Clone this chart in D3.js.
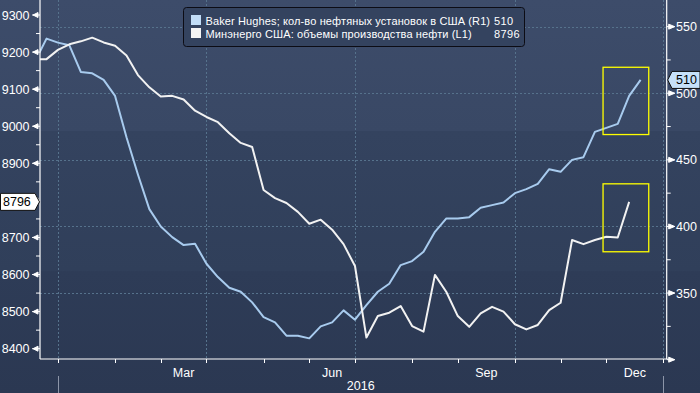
<!DOCTYPE html>
<html>
<head>
<meta charset="utf-8">
<script src="https://cdn.jsdelivr.net/npm/d3@7/dist/d3.min.js"></script>
<style>
  html, body { margin: 0; padding: 0; background: #2d3a55; }
  svg { display: block; font-family: "Liberation Sans", "DejaVu Sans", sans-serif; }
</style>
</head>
<body>
<svg id="chart" width="700" height="393"></svg>
<script>
"use strict";

// weekly points, first one sits just left of the plot (clipped)
var firstWeek = new Date(2015, 11, 18);

// Baker Hughes oil rigs (right axis)
var rigs = [524, 541, 538, 536, 516, 515, 510, 498, 467, 439, 413,
	400, 392, 386, 387, 372, 362, 354, 351, 343, 332,
	328, 318, 318, 316, 325, 328, 337, 330, 341, 351,
	357, 371, 374, 381, 396, 406, 406, 407, 414, 416,
	418, 425, 428, 432, 443, 441, 450, 452, 471, 474,
	477, 498, 510];

// EIA crude production, thousand bbl/d (left axis)
var production = [9180, 9181, 9206, 9221, 9229, 9239, 9226, 9217, 9191, 9138, 9105,
	9080, 9082, 9072, 9042, 9025, 9011, 8981, 8955, 8944, 8828,
	8806, 8793, 8769, 8737, 8748, 8721, 8682, 8623, 8430, 8488,
	8497, 8515, 8461, 8446, 8599, 8553, 8488, 8459, 8495, 8513,
	8500, 8466, 8452, 8464, 8504, 8524, 8693, 8682, 8693, 8702,
	8700, 8796];

var leftTicks = [8400, 8500, 8600, 8700, 8800, 8900, 9000, 9100, 9200, 9300];
var rightTicks = [300, 350, 400, 450, 500, 550];
var monthTicks = ['2016-01-01', '2016-02-05', '2016-03-04', '2016-04-01', '2016-05-06', '2016-06-03',
	'2016-07-01', '2016-08-05', '2016-09-02', '2016-10-07', '2016-11-04', '2016-12-02', '2017-01-06'];
var monthNames = ['', '', 'Mar', '', '', 'Jun', '', '', 'Sep', '', '', 'Dec'];
var quarterGrid = ['2016-01-01', '2016-04-01', '2016-07-01', '2016-10-07', '2017-01-06'];
var yearLabel = '2016';

var legendItems = [
	{name: 'Baker Hughes; кол-во нефтяных установок в США (R1)', value: '510', color: '#c2ddf7'},
	{name: 'Минэнерго США: объемы производства нефти (L1)', value: '8796', color: '#f4f4f4'}
];

// annotation boxes: [from date, to date, low rigs, high rigs]
var highlights = [
	['2016-11-30', '2016-12-28', 469, 519.5],
	['2016-11-30', '2016-12-28', 381, 432]
];

var parse = d3.timeParse('%Y-%m-%d');

var props = {
	width: 700,
	height: 393,
	left: 40,
	right: 666.7,
	top: 0,
	bottom: 359,
	blue: '#a8cbee',
	white: '#f2f2f2',
	grid: '#56728c'
};

var svg = d3.select('#chart');

// background bands
var defs = svg.append('defs');
var bg = defs.append('linearGradient')
	.attr('id', 'bg')
	.attr('x1', 0).attr('x2', 0).attr('y1', 0).attr('y2', 1);
[[0, '#3d4c6a'], [0.333, '#394865'], [0.334, '#34435f'], [0.69, '#303f5a'], [0.691, '#2e3c57'], [1, '#2b3852']]
	.forEach(function(s) {
		bg.append('stop').attr('offset', s[0]).attr('stop-color', s[1]);
	});
svg.append('rect')
	.attr('width', props.width)
	.attr('height', props.height)
	.attr('fill', 'url(#bg)');

defs.append('clipPath').attr('id', 'plot-clip')
	.append('rect')
	.attr('x', props.left)
	.attr('y', props.top)
	.attr('width', props.right - props.left)
	.attr('height', props.bottom - props.top);

var x = d3.scaleTime()
	.domain([new Date(2015, 11, 21), new Date(2017, 0, 8)])
	.range([props.left, props.right]);

var yLeft = d3.scaleLinear()
	.domain([8372.2, 9340.5])
	.range([props.bottom, props.top]);

var yRight = d3.scaleLinear()
	.domain([300.5, 570])
	.range([props.bottom, props.top]);

var dates = rigs.map(function(d, i) { return d3.timeDay.offset(firstWeek, 7 * i); });

// grid
var grid = svg.append('g').attr('class', 'grid');
grid.selectAll('.hgrid').data([350, 400, 450, 500, 550]).enter().append('line')
	.attr('x1', props.left).attr('x2', props.right)
	.attr('y1', function(d) { return Math.round(yRight(d)) + 0.5; })
	.attr('y2', function(d) { return Math.round(yRight(d)) + 0.5; })
	.attr('stroke', props.grid)
	.attr('stroke-dasharray', '2,2');
grid.selectAll('.vgrid').data(quarterGrid).enter().append('line')
	.attr('x1', function(d) { return Math.round(x(parse(d))) + 0.5; })
	.attr('x2', function(d) { return Math.round(x(parse(d))) + 0.5; })
	.attr('y1', props.top).attr('y2', props.bottom)
	.attr('stroke', props.grid)
	.attr('stroke-dasharray', '2,2');

// series
var plot = svg.append('g').attr('clip-path', 'url(#plot-clip)');

var rigLine = d3.line()
	.x(function(d, i) { return x(dates[i]); })
	.y(function(d) { return yRight(d); });
var prodLine = d3.line()
	.x(function(d, i) { return x(dates[i]); })
	.y(function(d) { return yLeft(d); });

plot.append('path')
	.datum(rigs)
	.attr('d', rigLine)
	.attr('fill', 'none')
	.attr('stroke', props.blue)
	.attr('stroke-width', 2)
	.attr('stroke-linejoin', 'round');

plot.append('path')
	.datum(production)
	.attr('d', prodLine)
	.attr('fill', 'none')
	.attr('stroke', props.white)
	.attr('stroke-width', 2)
	.attr('stroke-linejoin', 'round');

// yellow boxes
svg.selectAll('.hl').data(highlights).enter().append('rect')
	.attr('x', function(d) { return x(parse(d[0])); })
	.attr('y', function(d) { return yRight(d[3]); })
	.attr('width', function(d) { return x(parse(d[1])) - x(parse(d[0])); })
	.attr('height', function(d) { return yRight(d[2]) - yRight(d[3]); })
	.attr('fill', 'none')
	.attr('stroke', '#ffff00')
	.attr('stroke-width', 1.3);

// axes lines
var axes = svg.append('g').attr('stroke', '#ffffff').attr('stroke-width', 1.2);
axes.append('line').attr('x1', props.left).attr('x2', props.left).attr('y1', 0).attr('y2', props.bottom);
axes.append('line').attr('x1', props.right).attr('x2', props.right).attr('y1', 0).attr('y2', props.bottom);
axes.append('line').attr('x1', props.left).attr('x2', props.right + 1).attr('y1', props.bottom).attr('y2', props.bottom);

// left axis ticks
var left = svg.append('g');
left.selectAll('.minor').data(leftTicks.map(function(d) { return d + 50; }).filter(function(d) { return yLeft(d) > 0; }))
	.enter().append('line')
	.attr('x1', props.left - 4).attr('x2', props.left)
	.attr('y1', function(d) { return yLeft(d); })
	.attr('y2', function(d) { return yLeft(d); })
	.attr('stroke', '#fff');
left.selectAll('.major').data(leftTicks).enter().append('path')
	.attr('d', function(d) {
		var y = yLeft(d);
		return 'M' + (props.left) + ',' + y + 'L' + (props.left - 8) + ',' + y +
			'M' + (props.left - 7) + ',' + y + 'L' + (props.left - 2) + ',' + (y - 2.5) +
			'L' + (props.left - 2) + ',' + (y + 2.5) + 'Z';
	})
	.attr('stroke', '#fff')
	.attr('fill', '#fff');
left.selectAll('text').data(leftTicks).enter().append('text')
	.attr('x', 29.5)
	.attr('y', function(d) { return yLeft(d) + 4.5; })
	.attr('text-anchor', 'end')
	.attr('fill', '#fff')
	.attr('font-size', 12.5)
	.text(function(d) { return d; });

// right axis ticks
var right = svg.append('g');
right.selectAll('.minor').data([325, 375, 425, 475, 525])
	.enter().append('line')
	.attr('x1', props.right).attr('x2', props.right + 4)
	.attr('y1', function(d) { return yRight(d); })
	.attr('y2', function(d) { return yRight(d); })
	.attr('stroke', '#fff');
right.selectAll('.major').data(rightTicks).enter().append('path')
	.attr('d', function(d) {
		var y = yRight(d);
		return 'M' + (props.right) + ',' + y + 'L' + (props.right + 8) + ',' + y +
			'M' + (props.right + 8) + ',' + y + 'L' + (props.right + 2) + ',' + (y - 2.5) +
			'L' + (props.right + 2) + ',' + (y + 2.5) + 'Z';
	})
	.attr('stroke', '#fff')
	.attr('fill', '#fff');
right.selectAll('text').data(rightTicks.filter(function(d) { return d > 300; })).enter().append('text')
	.attr('x', 676)
	.attr('y', function(d) { return yRight(d) + 4.5; })
	.attr('fill', '#fff')
	.attr('font-size', 12.5)
	.text(function(d) { return d; });

// bottom axis
var bottom = svg.append('g');
bottom.selectAll('line').data(monthTicks).enter().append('line')
	.attr('x1', function(d) { return Math.round(x(parse(d))) + 0.5; })
	.attr('x2', function(d) { return Math.round(x(parse(d))) + 0.5; })
	.attr('y1', props.bottom).attr('y2', props.bottom + 4)
	.attr('stroke', '#fff');
bottom.selectAll('text').data(monthNames).enter().append('text')
	.attr('x', function(d, i) { return (x(parse(monthTicks[i])) + x(parse(monthTicks[i + 1]))) / 2; })
	.attr('y', 377)
	.attr('text-anchor', 'middle')
	.attr('fill', '#fff')
	.attr('font-size', 12.5)
	.text(function(d) { return d; });
bottom.selectAll('.year').data([monthTicks[0], monthTicks[12]]).enter().append('line')
	.attr('x1', function(d) { return Math.round(x(parse(d))) + 0.5; })
	.attr('x2', function(d) { return Math.round(x(parse(d))) + 0.5; })
	.attr('y1', 376).attr('y2', 393)
	.attr('stroke', '#8c95a8');
bottom.append('text')
	.attr('x', (x(parse(monthTicks[0])) + x(parse(monthTicks[12]))) / 2)
	.attr('y', 390)
	.attr('text-anchor', 'middle')
	.attr('fill', '#fff')
	.attr('font-size', 12.5)
	.text(yearLabel);

// last value tags
var lastProd = production[production.length - 1];
var lastRig = rigs[rigs.length - 1];
var ly = yLeft(lastProd);
svg.append('path')
	.attr('d', 'M0.5,' + (ly - 8.5) + 'H35L39.5,' + ly + 'L35,' + (ly + 8.5) + 'H0.5Z')
	.attr('fill', '#fff')
	.attr('stroke', '#111');
svg.append('text')
	.attr('x', 3).attr('y', ly + 4.5)
	.attr('fill', '#000')
	.attr('font-size', 12.5)
	.text(lastProd);
var ry = yRight(lastRig);
svg.append('path')
	.attr('d', 'M' + (props.right + 1) + ',' + ry + 'L672,' + (ry - 8.5) + 'H700V' + (ry + 8.5) + 'H672Z')
	.attr('fill', '#c6e0f8')
	.attr('stroke', '#111');
svg.append('text')
	.attr('x', 676).attr('y', ry + 4.5)
	.attr('fill', '#000')
	.attr('font-size', 12.5)
	.text(lastRig);

// legend
var legend = svg.append('g').attr('transform', 'translate(183.5,7.5)');
legend.append('rect')
	.attr('width', 341)
	.attr('height', 39)
	.attr('rx', 3)
	.attr('fill', '#34435f')
	.attr('stroke', '#0c0c14');
var items = legend.selectAll('.item').data(legendItems).enter().append('g')
	.attr('transform', function(d, i) { return 'translate(0,' + (7.5 + i * 13) + ')'; });
items.append('rect')
	.attr('x', 7.5).attr('width', 10).attr('height', 10)
	.attr('fill', function(d) { return d.color; });
items.append('text')
	.attr('x', 22).attr('y', 9.5)
	.attr('fill', '#fff')
	.attr('font-size', 11)
	.attr('letter-spacing', 0.12)
	.text(function(d) { return d.name; });
items.append('text')
	.attr('x', 310.5).attr('y', 9.5)
	.attr('fill', '#fff')
	.attr('font-size', 11)
	.attr('letter-spacing', 0.4)
	.text(function(d) { return d.value; });
</script>
</body>
</html>
